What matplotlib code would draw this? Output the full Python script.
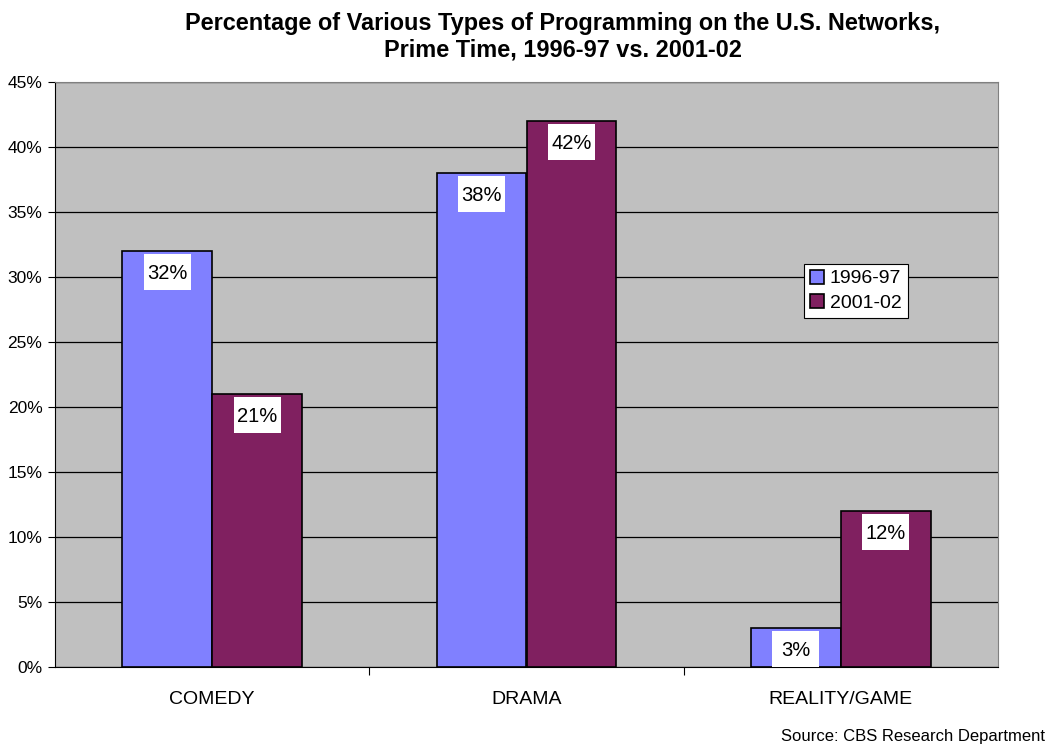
import matplotlib
matplotlib.use("Agg")
import matplotlib.pyplot as plt
import matplotlib.transforms as mtransforms
from matplotlib.patches import Rectangle
import numpy as np

categories = ["COMEDY", "DRAMA", "REALITY/GAME"]
series_names = ["1996-97", "2001-02"]
values_9697 = [32, 38, 3]
values_0102 = [21, 42, 12]
ytick_vals = [0, 5, 10, 15, 20, 25, 30, 35, 40, 45]

plt.rcParams['font.family'] = ['Liberation Sans', 'DejaVu Sans']

fig = plt.figure(figsize=(10.5, 7.47), dpi=100)
ax = fig.add_axes([55/1050, 80/747, 943/1050, 585/747])
ax.set_facecolor('#C0C0C0')

x = np.arange(len(categories))
w = 0.286
c1 = '#8080FF'
c2 = '#802060'
b1 = ax.bar(x - w/2, values_9697, w, color=c1, edgecolor='black', linewidth=1.2, zorder=3, label=series_names[0])
b2 = ax.bar(x + w/2, values_0102, w, color=c2, edgecolor='black', linewidth=1.2, zorder=3, label=series_names[1])

box_w, box_h, box_gap = 47, 36, 2.5  # pixels
for bars, vals in ((b1, values_9697), (b2, values_0102)):
    for rect, v in zip(bars, vals):
        xc = rect.get_x() + rect.get_width()/2
        tr = mtransforms.Affine2D().translate(-box_w/2, -box_h - box_gap) + \
             mtransforms.ScaledTranslation(xc, v, ax.transData)
        ax.add_patch(Rectangle((0, 0), box_w, box_h, transform=tr, fc='white', ec='none', zorder=4))
        ax.annotate(f"{v}%", (xc, v), xytext=(0, -(box_gap + box_h/2) * 0.72),
                    textcoords='offset points', ha='center', va='center_baseline', fontsize=14.5, zorder=5)

ax.set_xlim(-0.5, 2.5)
ax.set_ylim(0, 45)
ax.set_yticks(ytick_vals)
ax.set_yticklabels([f"{v}%" for v in ytick_vals], fontsize=12.5)
ax.yaxis.grid(True, color='black', linewidth=0.9, zorder=1)
ax.set_axisbelow(True)

ax.set_xticks([0.5, 1.5], minor=False)
ax.set_xticklabels([])
ax.set_xticks(x, minor=True)
ax.set_xticklabels(categories, minor=True, fontsize=14)
ax.tick_params(axis='x', which='minor', length=0, pad=17)
ax.tick_params(axis='x', which='major', length=6, direction='out')
ax.tick_params(axis='y', length=5, direction='out', pad=4)

for s in ('top', 'right'):
    ax.spines[s].set_color('#808080')
ax.spines['left'].set_color('black')
ax.spines['bottom'].set_color('black')

leg = ax.legend(loc='center', bbox_to_anchor=(0.849, 0.643), fontsize=14, frameon=True,
                fancybox=False, edgecolor='black', framealpha=1, handlelength=0.75, handleheight=0.75,
                handletextpad=0.3, borderpad=0.3, labelspacing=0.35, borderaxespad=0)
leg.get_frame().set_linewidth(0.8)

fig.text(0.536, 0.9505, "Percentage of Various Types of Programming on the U.S. Networks,\nPrime Time, 1996-97 vs. 2001-02",
         ha='center', va='center', fontsize=16.9, fontweight='bold', linespacing=1.22)
fig.text(1045/1050, 1 - 737/747, "Source: CBS Research Department", ha='right', va='center', fontsize=12)

fig.savefig("out.png", dpi=100)
